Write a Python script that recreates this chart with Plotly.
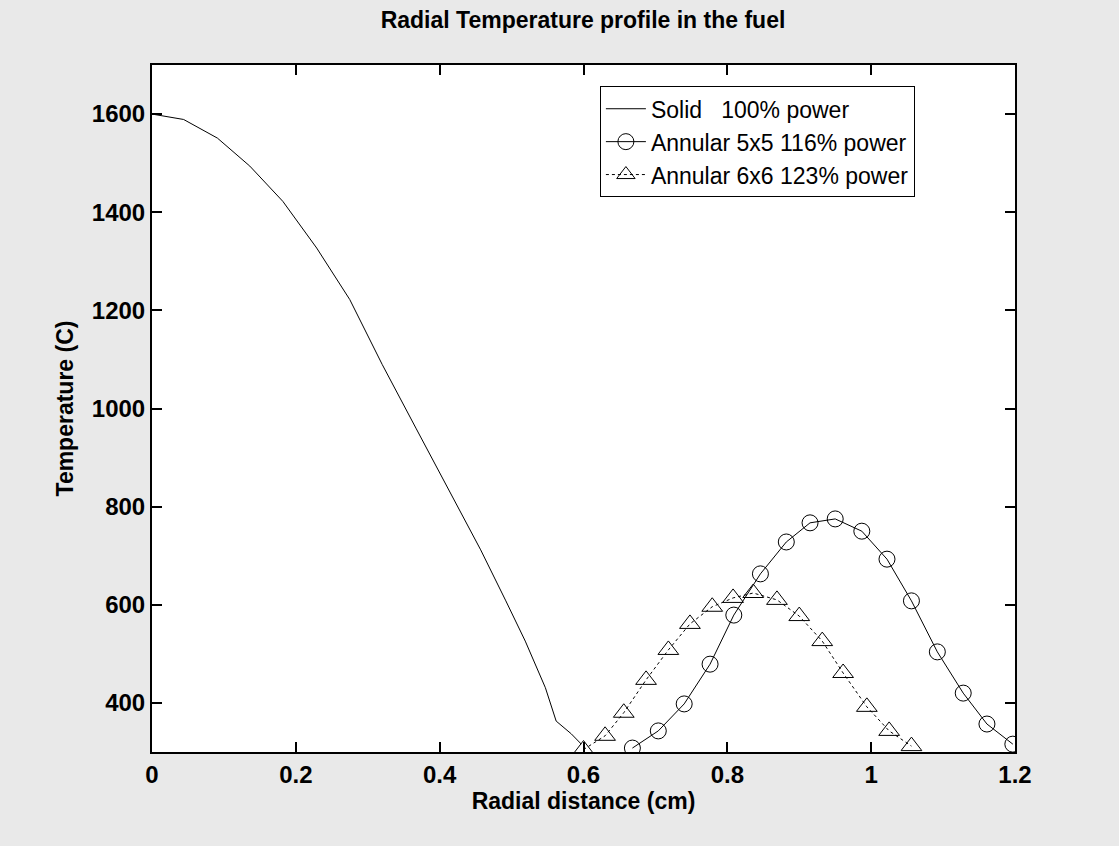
import plotly.graph_objects as go

# Solid fuel, 100% power
solid_r = [0.0, 0.044, 0.091, 0.136, 0.182, 0.229, 0.275, 0.320, 0.367, 0.413,
           0.457, 0.492, 0.519, 0.547, 0.562, 0.583, 0.597]
solid_t = [1600, 1589, 1551, 1494, 1422, 1327, 1222, 1090, 960, 832,
           712, 608, 526, 431, 363, 337, 316]

# Annular 5x5, 116% power
ann5_r = [0.668, 0.704, 0.740, 0.776, 0.809, 0.846, 0.882, 0.915,
          0.950, 0.987, 1.022, 1.056, 1.092, 1.128, 1.161, 1.197]
ann5_t = [308, 343, 398, 479, 579, 663, 728, 767,
          775, 750, 693, 608, 504, 420, 357, 316]

# Annular 6x6, 123% power
ann6_r = [0.600, 0.630, 0.656, 0.687, 0.718, 0.748, 0.779, 0.808,
          0.836, 0.869, 0.900, 0.932, 0.961, 0.994, 1.025, 1.056]
ann6_t = [305, 333, 380, 447, 508, 561, 596, 614,
          624, 610, 577, 526, 461, 392, 343, 312]

x_ticks = [0, 0.2, 0.4, 0.6, 0.8, 1.0, 1.2]
x_tick_labels = ["0", "0.2", "0.4", "0.6", "0.8", "1", "1.2"]
y_ticks = [400, 600, 800, 1000, 1200, 1400, 1600]
y_tick_labels = ["400", "600", "800", "1000", "1200", "1400", "1600"]

FONT = "Liberation Sans, Arial, sans-serif"

fig = go.Figure()
fig.add_trace(go.Scatter(
    x=solid_r, y=solid_t, mode="lines", name="Solid   100% power",
    line=dict(color="black", width=1)))
fig.add_trace(go.Scatter(
    x=ann5_r, y=ann5_t, mode="lines+markers", name="Annular 5x5 116% power",
    line=dict(color="black", width=1),
    marker=dict(symbol="circle-open", size=16, color="black", line=dict(width=1))))
fig.add_trace(go.Scatter(
    x=ann6_r, y=ann6_t, mode="lines+markers", name="Annular 6x6 123% power",
    line=dict(color="black", width=1, dash="dot"),
    marker=dict(symbol="triangle-up-open", size=18, color="black", line=dict(width=1))))

fig.update_layout(
    width=1119, height=846,
    margin=dict(l=152, r=104, t=65, b=94),
    paper_bgcolor="#e9e9e9",
    plot_bgcolor="white",
    title=dict(text="<b>Radial Temperature profile in the fuel</b>",
               x=0.521, xanchor="center", y=0.976, yanchor="middle",
               font=dict(family=FONT, size=23, color="black")),
    showlegend=True,
    legend=dict(x=0.519, y=0.969, xanchor="left", yanchor="top",
                bgcolor="white", bordercolor="black", borderwidth=1,
                font=dict(family=FONT, size=23, color="black"),
                itemwidth=40, tracegroupgap=0),
    xaxis=dict(range=[0, 1.2], tickvals=x_ticks,
               ticktext=["<b>%s</b>" % t for t in x_tick_labels],
               showgrid=False, zeroline=False, showline=True, linecolor="black",
               linewidth=2, mirror="allticks", ticks="inside", ticklen=10,
               tickwidth=2, tickcolor="black",
               tickfont=dict(family=FONT, size=24, color="black"),
               title=dict(text="<b>Radial distance (cm)</b>", standoff=6,
                          font=dict(family=FONT, size=23, color="black"))),
    yaxis=dict(range=[300, 1700], tickvals=y_ticks,
               ticktext=["<b>%s</b>" % t for t in y_tick_labels],
               showgrid=False, zeroline=False, showline=True, linecolor="black",
               linewidth=2, mirror="allticks", ticks="inside", ticklen=10,
               tickwidth=2, tickcolor="black",
               tickfont=dict(family=FONT, size=24, color="black"),
               title=dict(text="<b>Temperature (C)</b>", standoff=12,
                          font=dict(family=FONT, size=23, color="black"))),
)

fig.write_html("out.html", config={"displayModeBar": False},
               post_script="document.body.style.margin='0';document.body.style.background='#e9e9e9';")
